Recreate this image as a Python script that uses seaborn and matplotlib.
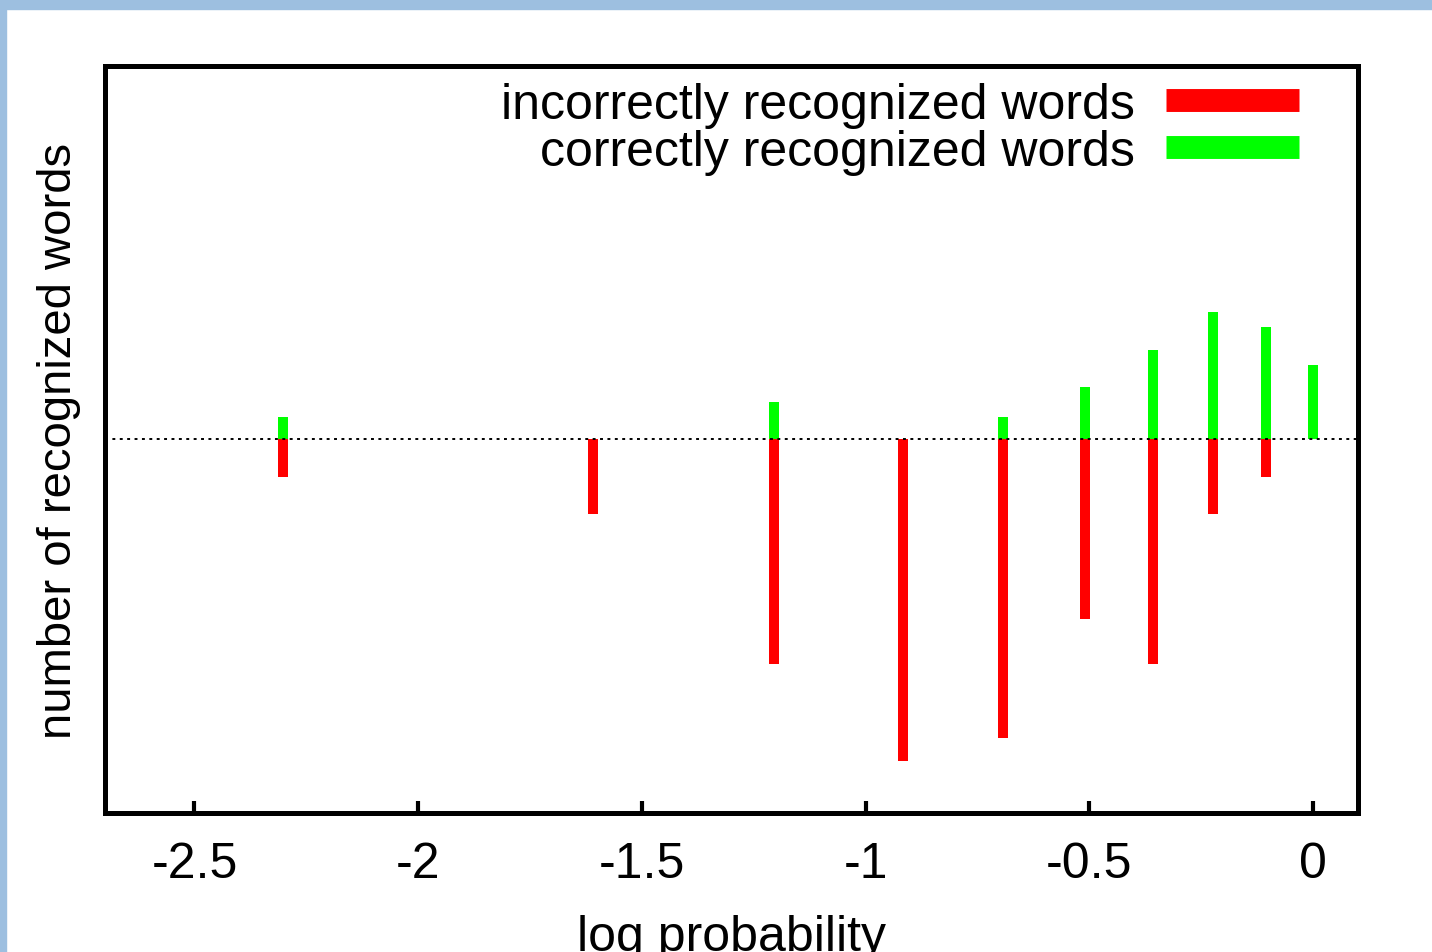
import matplotlib
matplotlib.use("Agg")
import matplotlib.pyplot as plt
from matplotlib.patches import Rectangle
from matplotlib.lines import Line2D
import seaborn as sns
import pandas as pd

# log probability bins and word counts per bin
log_prob = [-2.303, -1.609, -1.204, -0.916, -0.693, -0.511, -0.357, -0.223, -0.105, 0.0]
correct = [3, 0, 5, 0, 3, 7, 12, 17, 15, 10]
incorrect = [5, 10, 30, 43, 40, 24, 30, 10, 5, 0]
xtick_vals = [-2.5, -2.0, -1.5, -1.0, -0.5, 0.0]
xtick_labels = ["-2.5", "-2", "-1.5", "-1", "-0.5", "0"]

label_bad = "incorrectly recognized words"
label_good = "correctly recognized words"

sns.set_style("white")
plt.rcParams["font.family"] = ["Liberation Sans", "DejaVu Sans"]
plt.rcParams["text.color"] = "black"
plt.rcParams["axes.labelcolor"] = "black"
plt.rcParams["xtick.color"] = "black"

FS = 36

df = pd.DataFrame({
    "x": log_prob * 2,
    "count": correct + [-v for v in incorrect],
    "kind": [label_good] * len(log_prob) + [label_bad] * len(log_prob),
})

fig = plt.figure(figsize=(14.32, 9.53), dpi=100)
ax = fig.add_axes([0.0733, 0.1459, 0.8750, 0.7838])

sns.barplot(data=df, x="x", y="count", hue="kind", native_scale=True,
            dodge=False, width=0.213, linewidth=0, saturation=1,
            palette={label_good: "#00ff00", label_bad: "#ff0000"},
            legend=False, ax=ax)

ax.axhline(0, color="black", lw=1.4, ls=(0, (1.5, 2.3)), zorder=5)

ax.set_xlim(-2.7, 0.1)
ax.set_ylim(-50, 50)
ax.set_xticks(xtick_vals)
ax.set_xticklabels(xtick_labels)
ax.set_yticks([])
ax.tick_params(axis="x", direction="in", length=9, width=3, pad=20.5,
               labelsize=FS, bottom=True, top=False)
for s in ax.spines.values():
    s.set_visible(True)
    s.set_linewidth(3.6)
    s.set_color("black")

ax.set_xlabel("log probability", fontsize=FS, labelpad=19)
ax.set_ylabel("number of recognized words", fontsize=34, labelpad=17)

handles = [Line2D([], [], color="#ff0000", lw=16.5, solid_capstyle="butt"),
           Line2D([], [], color="#00ff00", lw=16.5, solid_capstyle="butt")]
ax.legend(handles, [label_bad, label_good], loc="upper right",
          bbox_to_anchor=(0.9658, 1.0), frameon=False,
          fontsize=FS, markerfirst=False, handlelength=2.66, handletextpad=0.62,
          labelspacing=0.02, borderaxespad=0.0, borderpad=0.32)

# light blue frame along the top and left edges
fig.patches.append(Rectangle((0, 1 - 10 / 953), 1, 10 / 953, transform=fig.transFigure,
                             color="#9dbfe0", zorder=10))
fig.patches.append(Rectangle((0, 0), 6 / 1432, 1, transform=fig.transFigure,
                             color="#9dbfe0", zorder=10))

fig.savefig("out.png", dpi=100)
